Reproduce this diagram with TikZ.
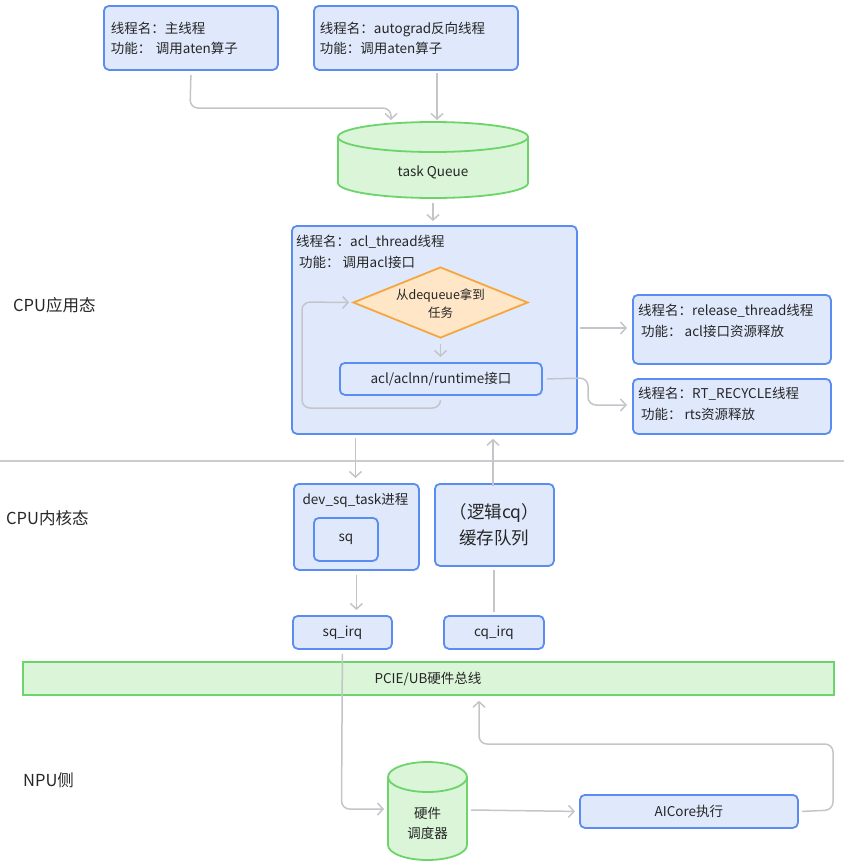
\documentclass[tikz,border=0pt]{standalone}
\usepackage{fontspec}
\setmainfont{Noto Sans CJK SC}
\usetikzlibrary{arrows.meta,shapes.geometric}
\definecolor{bfill}{HTML}{E0E9FC}
\definecolor{bborder}{HTML}{5A8CF2}
\definecolor{gfill}{HTML}{DAF5D7}
\definecolor{gborder}{HTML}{6CD46A}
\definecolor{ofill}{HTML}{FEE6C6}
\definecolor{oborder}{HTML}{F6A63F}
\definecolor{cgray}{HTML}{C3C5C9}
\definecolor{sepgray}{HTML}{CACCCF}
\definecolor{textc}{HTML}{262626}
\newcommand\fsn{\fontsize{13.5}{20}\selectfont}
\newcommand\fss{\fontsize{12.5}{18}\selectfont}
\newcommand\fsm{\fontsize{13.5}{20}\selectfont}
\newcommand\fsl{\fontsize{16.5}{20}\selectfont}
\newcommand\fsc{\fontsize{17.5}{26}\selectfont}
\tikzset{
  bbox/.style={draw=bborder, fill=bfill, line width=1.8pt, rounded corners=5pt, inner sep=0pt, anchor=north west, font=\fsn},
  gbox/.style={draw=gborder, fill=gfill, line width=1.8pt, inner sep=0pt, anchor=north west},
  cyl/.style={draw=gborder, fill=gfill, line width=1.8pt},
  txt/.style={inner sep=0pt, font=\fsn},
  conn/.style={draw=cgray, line width=1.5pt, rounded corners=8pt},
  arr/.style={conn, -{Straight Barb[length=5.5pt,width=12pt]}},
}
\begin{document}
\begin{tikzpicture}[x=1pt,y=-1pt,text=textc]
\useasboundingbox (0,0) rectangle (844,865);

% top thread boxes
\node[bbox, minimum width=174pt, minimum height=64pt, text width=160pt, align=left] (A) at (103,5) {线程名：主线程\\功能： 调用aten算子};
\node[bbox, minimum width=204pt, minimum height=64pt, text width=192pt, align=left] (B) at (313,5) {线程名：autograd反向线程\\功能：调用aten算子};

% task queue cylinder
\path[cyl] (338,137) -- (338,183) arc (180:360:95pt and 15pt) -- (528,137) arc (0:180:95pt and 15pt) -- cycle;
\draw[draw=gborder, line width=1.8pt] (338,137) arc (180:360:95pt and 15pt);
\node[txt] (tq) at (433,172) {task Queue};
\coordinate (tqA) at (391,120);
\coordinate (tqB) at (437,120);
\coordinate (tqbot) at (433,203);

% acl thread box
\node[bbox, minimum width=285pt, minimum height=208pt] (acl) at (291,225) {};
\node[txt, anchor=west] (acl1) at (296,242) {线程名：acl\_thread线程};
\node[txt, anchor=west] (acl2) at (299,262) {功能： 调用acl接口};
\node[diamond, draw=oborder, fill=ofill, line width=1.8pt, minimum width=175pt, minimum height=71pt, inner sep=0pt] (dq) at (440.5,302.5) {};
\node[txt, font=\fss, align=center] (dqt) at (440.5,304) {从dequeue拿到\\任务};
\node[bbox, minimum width=202pt, minimum height=32pt] (rt) at (339,362) {acl/aclnn/runtime接口};

% release and recycle boxes
\node[bbox, minimum width=198pt, minimum height=69pt] (rel) at (632,294) {};
\node[txt, anchor=west] (rel1) at (638,311) {线程名：release\_thread线程};
\node[txt, anchor=west] (rel2) at (641,331) {功能： acl接口资源释放};
\node[bbox, minimum width=198pt, minimum height=55pt] (rec) at (632,378) {};
\node[txt, anchor=west] (rec1) at (638,394) {线程名：RT\_RECYCLE线程};
\node[txt, anchor=west] (rec2) at (641,414) {功能： rts资源释放};

% separator
\draw[draw=sepgray, line width=1.5pt] (0,461) -- (844,461);

% section labels
\node[txt, font=\fsl, anchor=west] (l1) at (13,305) {CPU应用态};
\node[txt, font=\fsl, anchor=west] (l2) at (6,518) {CPU内核态};
\node[txt, font=\fsl, anchor=west] (l3) at (23,780) {NPU侧};

% kernel boxes
\node[bbox, minimum width=125pt, minimum height=86pt] (dev) at (293,483) {};
\node[txt] (devt) at (355.5,500) {dev\_sq\_task进程};
\node[bbox, minimum width=64pt, minimum height=43pt] (sq) at (313,517) {sq};
\node[bbox, minimum width=119pt, minimum height=82pt, font=\fsc, align=center] (cq) at (434,483) {（逻辑cq）\\缓存队列};
\node[bbox, minimum width=99pt, minimum height=33pt] (sqirq) at (292,615) {sq\_irq};
\node[bbox, minimum width=100pt, minimum height=33pt] (cqirq) at (443,615) {cq\_irq};

% bus
\node[gbox, minimum width=811pt, minimum height=33pt] (bus) at (22,661) {};
\node[txt, font=\fsm] (bust) at (428,679) {PCIE/UB硬件总线};

% hardware scheduler cylinder
\path[cyl] (388,777) -- (388,845) arc (180:360:39.5pt and 15pt) -- (467,777) arc (0:180:39.5pt and 15pt) -- cycle;
\draw[draw=gborder, line width=1.8pt] (388,777) arc (180:360:39.5pt and 15pt);
\node[txt, font=\fsm, align=center] (hs) at (427.5,823) {硬件\\调度器};
\coordinate (hsin) at (384,809);
\coordinate (hsout) at (471,810);

% AICore
\node[bbox, minimum width=218pt, minimum height=33pt] (ai) at (579,794) {AICore执行};

% connectors
\draw[arr] ([yshift=-4pt]A.south) -- (190,108) -- (391,108) -- (tqA);
\draw[arr] (437,73) -- (tqB);
\draw[arr] (tqbot) -- ([yshift=4pt]acl.north -| tqbot);
\draw[arr] ([yshift=-5pt]dq.south) -- ([yshift=5pt]rt.north -| dq.south);
\draw[arr] ([yshift=-4pt]rt.south -| dq.south) -- (440.5,408) -- (302,408) -- (302,302) -- ([xshift=-3pt]dq.west);
\draw[arr] (580,328) -- ([xshift=-5pt]rel.west |- 0,328);
\draw[arr] ([xshift=4pt]rt.east) -- (588,378) -- (588,405) -- ([xshift=-5pt]rec.west |- 0,405);
\draw[arr] (355.5,438) -- ([yshift=5pt]dev.north -| 355.5,0);
\draw[arr] ([yshift=-3pt]cq.north -| 493,0) -- ([yshift=-4pt]acl.south -| 493,0);
\draw[arr] ([yshift=-4pt]dev.south) -- ([yshift=5pt]sqirq.north -| dev.south);
\draw[conn] ([yshift=3pt]cqirq.north) -- ([yshift=-3pt]cq.south -| cqirq.north);
\draw[arr] ([yshift=-4pt]sqirq.south) -- (341.5,809) -- (hsin);
\draw[arr] (hsout) -- ([xshift=-4pt]ai.west);
\draw[arr] ([xshift=3pt]ai.east) -- (833,810) -- (833,744) -- (479,744) -- ([yshift=-5pt]bus.south -| 479,0);
\end{tikzpicture}
\end{document}
